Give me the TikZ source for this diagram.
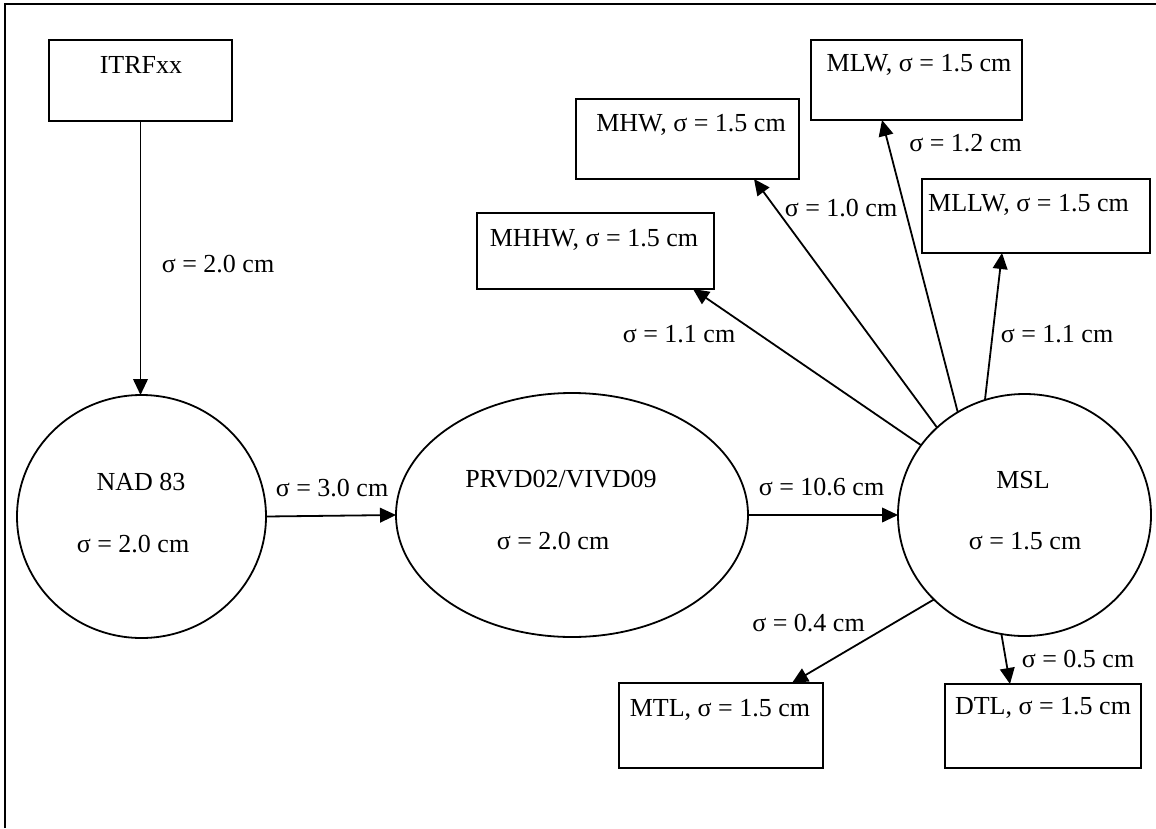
\documentclass[tikz,border=0pt]{standalone}
\usepackage{fontspec}
\setmainfont{Liberation Serif}
\usetikzlibrary{shapes.geometric,arrows.meta,calc}
\newcommand\pxu[1]{#1*0.75pt}
\begin{document}
\begin{tikzpicture}[x=0.75pt,y=-0.75pt,
  font=\fontsize{19.5}{23}\selectfont,
  box/.style={draw,line width=1.6pt,inner sep=0pt,outer sep=0pt},
  oval/.style={draw,ellipse,line width=1.35pt,inner sep=0pt,outer sep=0pt},
  txt/.style={inner sep=0pt,text height=0.66em,text depth=0pt},
  link/.style={line width=1.35pt,-{Triangle[length=12pt,width=11pt]}},
  frame/.style={line width=1.7pt}]
\useasboundingbox (0,0) rectangle (1156,828);
% frame (top and left edges only)
\draw[frame] (5,828) coordinate (fbl) -- (5,4) coordinate (ftl) -- (1160,4) coordinate (ftr);

% boxes
\node[box,minimum width=\pxu{183},minimum height=\pxu{81}] (itrf) at (140.5,80.5) {};
\node[txt] (itrfT) at (141,69) {ITRFxx};
\node[box,minimum width=\pxu{211},minimum height=\pxu{80}] (mlw) at (916.5,80) {};
\node[txt] (mlwT) at (919,67) {MLW, σ = 1.5 cm};
\node[box,minimum width=\pxu{223},minimum height=\pxu{80}] (mhw) at (687.5,139) {};
\node[txt] (mhwT) at (691,127) {MHW, σ = 1.5 cm};
\node[box,minimum width=\pxu{228},minimum height=\pxu{74}] (mllw) at (1036,216) {};
\node[txt] (mllwT) at (1028.5,207) {MLLW, σ = 1.5 cm};
\node[box,minimum width=\pxu{237},minimum height=\pxu{76}] (mhhw) at (595.5,251) {};
\node[txt] (mhhwT) at (594,242) {MHHW, σ = 1.5 cm};
\node[box,minimum width=\pxu{204},minimum height=\pxu{85}] (mtl) at (721,725.5) {};
\node[txt] (mtlT) at (720,712) {MTL, σ = 1.5 cm};
\node[box,minimum width=\pxu{196},minimum height=\pxu{84}] (dtl) at (1043,726) {};
\node[txt] (dtlT) at (1043,710) {DTL, σ = 1.5 cm};

% ellipses
\node[oval,minimum width=\pxu{249},minimum height=\pxu{243}] (nad) at (141.5,516.5) {};
\node[txt] (nadA) at (141,486) {NAD 83};
\node[txt] (nadB) at (133,548) {σ = 2.0 cm};
\node[oval,minimum width=\pxu{352},minimum height=\pxu{244}] (prvd) at (572,515) {};
\node[txt] (prvdA) at (561,483) {PRVD02/VIVD09};
\node[txt] (prvdB) at (553,545) {σ = 2.0 cm};
\node[oval,minimum width=\pxu{253},minimum height=\pxu{242}] (msl) at (1024.5,515) {};
\node[txt] (mslA) at (1023,484) {MSL};
\node[txt] (mslB) at (1025,545) {σ = 1.5 cm};

% connectors
\draw[link] (itrf.south) -- (itrf.south |- nad.north);
\draw[link] (nad.east) -- (prvd.west);
\draw[link] (prvd.east) -- (msl.west);
\draw[link] (msl.146.8) -- ($(mhhw.south east)+(-21,0)$);
\draw[link] (msl.135.8) -- ($(mhw.south east)+(-45,0)$);
\draw[link] (msl.123.1) -- ($(mlw.south west)+(71,0)$);
\draw[link] (msl.109.8) -- ($(mllw.south west)+(80,0)$);
\draw[link] (msl.223.6) -- ($(mtl.north east)+(-31,0)$);
\draw[link] (msl.259.5) -- ($(dtl.north west)+(65,0)$);

% connector labels
\node[txt] (l1) at (218,268) {σ = 2.0 cm};
\node[txt] (l2) at (332,492) {σ = 3.0 cm};
\node[txt] (l3) at (821.5,491) {σ = 10.6 cm};
\node[txt] (l4) at (679,338) {σ = 1.1 cm};
\node[txt] (l5) at (841,212) {σ = 1.0 cm};
\node[txt] (l6) at (965.5,147) {σ = 1.2 cm};
\node[txt] (l7) at (1057,338) {σ = 1.1 cm};
\node[txt] (l8) at (808.5,627) {σ = 0.4 cm};
\node[txt] (l9) at (1078,663) {σ = 0.5 cm};
\end{tikzpicture}
\end{document}
